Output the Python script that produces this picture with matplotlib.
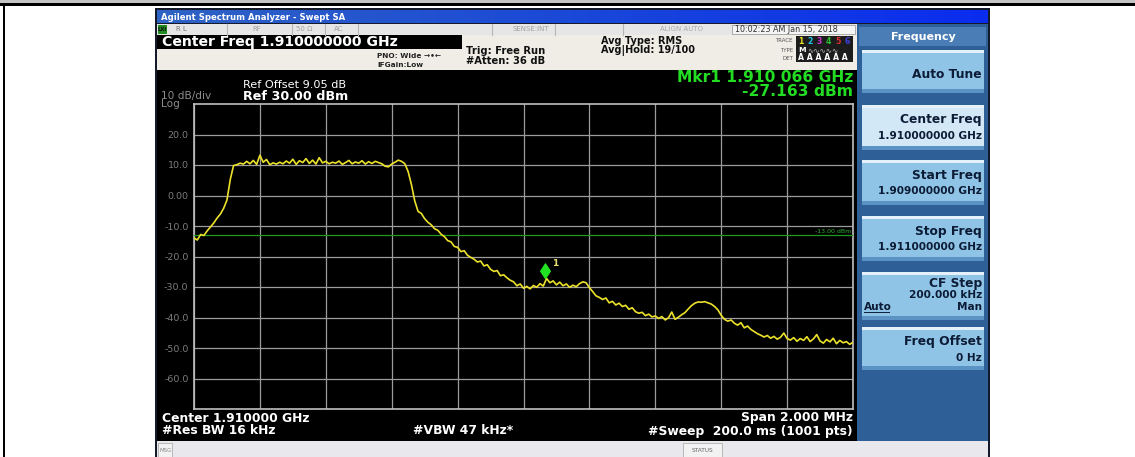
import matplotlib.pyplot as plt
from matplotlib.patches import Rectangle
from matplotlib.colors import LinearSegmentedColormap
import numpy as np

# the instrument screenshot uses a wide sans, DejaVu comes closest
plt.rcParams['font.family'] = ['DejaVu Sans', 'Liberation Sans']

# sweep 1.909 - 1.911 GHz, 201 points
start_ghz = 1.909
stop_ghz = 1.911
trace_dbm = [
    -13.9, -14.6, -12.8, -13.1, -11.6, -10.3, -9.0, -7.4, -6.1, -4.2,
    -1.5, 5.2, 9.8, 10.1, 10.6, 10.3, 11.2, 10.4, 11.5, 10.2,
    13.2, 10.9, 11.8, 10.1, 10.7, 10.3, 10.9, 10.4, 11.3, 10.6,
    11.9, 10.2, 11.4, 10.8, 12.1, 10.5, 11.6, 10.3, 12.4, 10.7,
    11.2, 10.4, 10.9, 10.6, 11.3, 10.2, 10.8, 11.5, 10.4, 11.0,
    10.6, 11.4, 10.3, 11.1, 10.5, 11.2, 10.8, 10.4, 9.6, 9.4,
    10.3, 10.9, 11.6, 11.2, 10.4, 7.8, 3.5, -1.8, -5.2, -5.9,
    -7.6, -8.8, -9.6, -10.9, -11.4, -12.7, -13.5, -14.8, -15.2, -16.7,
    -17.0, -18.4, -18.1, -19.6, -20.3, -20.9, -21.8, -21.5, -23.1, -22.7,
    -24.2, -24.9, -24.6, -26.3, -26.0, -27.0, -27.8, -28.3, -29.6, -29.0,
    -30.4, -29.8, -30.6, -29.5, -30.1, -28.9, -29.7, -27.2, -28.6, -28.0,
    -29.3, -28.4, -29.6, -29.0, -30.1, -29.4, -29.9, -28.9, -28.3, -28.6,
    -30.2, -31.5, -32.9, -33.4, -34.1, -33.6, -35.2, -34.7, -35.9, -35.3,
    -36.4, -36.0, -37.3, -36.8, -38.1, -38.6, -38.3, -39.4, -38.9, -39.8,
    -39.5, -40.3, -39.7, -40.8, -40.1, -38.2, -40.6, -39.9, -39.1, -38.4,
    -37.2, -36.1, -35.3, -34.9, -35.0, -34.8, -35.2, -35.6, -36.4, -37.5,
    -39.3, -40.6, -41.2, -40.8, -41.9, -42.5, -41.7, -43.4, -42.8, -43.9,
    -44.6, -45.3, -45.8, -46.4, -45.9, -46.8, -46.2, -47.1, -46.5, -45.1,
    -46.9, -47.4, -46.6, -47.8, -46.9, -47.5, -46.3, -47.9, -47.0, -45.6,
    -47.7, -48.4, -47.2, -48.0, -46.8, -48.6, -47.5, -48.3, -47.9, -48.8,
    -48.1,
]
ref_dbm = 30.0
bottom_dbm = -70.0
y_ticks = [20, 10, 0, -10, -20, -30, -40, -50, -60]
y_tick_labels = ['20.0', '10.0', '0.00', '-10.0', '-20.0', '-30.0', '-40.0', '-50.0', '-60.0']
limit_dbm = -13.0
mkr_ghz = 1.910066
mkr_dbm = -27.163

softkeys = [
    ('Auto Tune', None),
    ('Center Freq', '1.910000000 GHz'),
    ('Start Freq', '1.909000000 GHz'),
    ('Stop Freq', '1.911000000 GHz'),
    ('CF Step', '200.000 kHz'),
    ('Freq Offset', '0 Hz'),
]

W, H = 1135, 457
fig = plt.figure(figsize=(W / 100, H / 100), dpi=100)
fig.patch.set_facecolor('white')

# whole-figure layer in pixel coordinates for the instrument screen chrome
bg = fig.add_axes([0, 0, 1, 1])
bg.set_xlim(0, W)
bg.set_ylim(H, 0)
bg.axis('off')


def box(x0, y0, x1, y1, color, ec='none', lw=0):
    bg.add_patch(Rectangle((x0, y0), x1 - x0, y1 - y0, facecolor=color,
                           edgecolor=ec, linewidth=lw))


def txt(x, y, s, size=7, color='white', weight='normal', ha='left', **kw):
    bg.text(x, y, s, fontsize=size, color=color, fontweight=weight,
            ha=ha, va='center', **kw)


# page borders
box(0, 0, W, 3.3, '#c4c4c4')
box(0, 3.3, W, 6, 'black')
box(2.7, 6, 5.3, H, 'black')

# screenshot frame + title bar
box(155, 8, 990, H, '#141a2a')
grad = np.linspace(0, 1, 256).reshape(1, -1)
bg.imshow(grad, extent=(157, 988, 23.5, 10.5), aspect='auto', zorder=1,
          cmap=LinearSegmentedColormap.from_list('tb', ['#2f63c4', '#1a48d8', '#0a2cf0']))
txt(161, 17.5, 'Agilent Spectrum Analyzer - Swept SA', size=6.1, weight='bold', zorder=2)

# status row
box(157, 23.5, 857, 35, '#e6e6e6')
for xs in [227, 292, 325, 358, 492, 555, 623]:
    bg.plot([xs, xs], [24, 34.5], color='#b5b5b5', lw=0.8)
box(157.5, 25, 167, 33.5, '#1f8a1f')
txt(158, 29.3, 'LXI', size=3.8, color='#111111', weight='bold')
txt(176, 29.3, 'R L', size=5, color='#777777')
txt(252, 29.3, 'RF', size=5, color='#a0a0a0')
txt(296, 29.3, '50 Ω', size=5, color='#a0a0a0')
txt(334, 29.3, 'AC', size=5, color='#a0a0a0')
txt(531, 29.3, 'SENSE:INT', size=5, color='#a0a0a0', ha='center')
txt(681, 29.3, 'ALIGN AUTO', size=5, color='#aaaaaa', ha='center')
box(732, 24.5, 855, 34, '#f4f4f4', ec='#a0a0a0', lw=0.6)
txt(735, 29.3, '10:02:23 AM Jan 15, 2018', size=5.8, color='#333333')

# settings row
box(157, 35, 857, 70, '#efede6')
box(157, 35, 462, 49, 'black')
txt(162, 42, 'Center Freq 1.910000000 GHz', size=10.1, weight='bold')
txt(377, 56, 'PNO: Wide \u2192\u2022\u2190', size=5.3, color='#222222', weight='bold')
txt(377, 65, 'IFGain:Low', size=5.3, color='#222222', weight='bold')
txt(466, 51.5, 'Trig: Free Run', size=7.2, color='#111111', weight='bold')
txt(466, 61, '#Atten: 36 dB', size=7.2, color='#111111', weight='bold')
txt(601, 41, 'Avg Type: RMS', size=7.0, color='#111111', weight='bold')
txt(601, 51, 'Avg|Hold: 19/100', size=7.0, color='#111111', weight='bold')
txt(793, 41, 'TRACE', size=4, color='#555555', ha='right')
txt(793, 50, 'TYPE', size=4, color='#555555', ha='right')
txt(793, 58, 'DET', size=4, color='#555555', ha='right')
box(796, 36, 853, 62, '#1c1c1c')
for k, col in enumerate(['#e8e020', '#20c8e8', '#d030d0', '#30c030', '#e03030', '#4040e0']):
    txt(798 + k * 9.3, 41, str(k + 1), size=5.6, color=col, weight='bold')
txt(798, 50, 'M', size=5.4, color='white', weight='bold')
txt(807, 50, '\u223f\u223f\u223f\u223f\u223f', size=5.4, color='#bbbbbb')
txt(798, 58, 'A A A A A A', size=5.6, color='white', weight='bold')

# screen
box(157, 70, 857, 441, 'black')
txt(243, 85, 'Ref Offset 9.05 dB', size=8.1)
txt(161, 96, '10 dB/div', size=7.6, color='#8c8c8c')
txt(243, 96, 'Ref 30.00 dBm', size=9.2, weight='bold')
txt(161, 104, 'Log', size=7.6, color='#8c8c8c')
txt(853, 78, 'Mkr1 1.910 066 GHz', size=11.2, color='#22dd22', weight='bold', ha='right')
txt(853, 91.5, '-27.163 dBm', size=11.2, color='#22dd22', weight='bold', ha='right')
txt(162, 418, 'Center 1.910000 GHz', size=8.9, weight='bold')
txt(162, 431, '#Res BW 16 kHz', size=8.9, weight='bold')
txt(413, 431, '#VBW 47 kHz*', size=8.9, weight='bold')
txt(853, 418, 'Span 2.000 MHz', size=8.9, weight='bold', ha='right')
txt(853, 431, '#Sweep  200.0 ms (1001 pts)', size=8.9, weight='bold', ha='right')

# message bar
box(157, 441, 988, H, '#e9e8ec')
box(158, 443, 172, H, '#f2f2f2', ec='#b0b0b0', lw=0.6)
txt(159.5, 450, 'MSG', size=4, color='#888888')
box(683, 443, 722, H, '#f2f2f2', ec='#b0b0b0', lw=0.6)
txt(702.5, 450, 'STATUS', size=4.2, color='#666666', ha='center')

# softkey panel
box(857, 23.5, 988, 441, '#2e5f96')
box(859, 27, 986, 46, '#4a7db5')
txt(923, 37, 'Frequency', size=8, weight='bold', ha='center')
key_tops = [50, 105, 160, 216, 272, 327]
key_h = [43, 45, 45, 45, 48, 43]
ink = '#0c1c36'
for (name, val), top, h in zip(softkeys, key_tops, key_h):
    face = '#d3e8f6' if name == 'Center Freq' else '#90c4e6'
    box(862, top, 984, top + h, face)
    box(862, top, 984, top + 3, '#e4f1fa')
    box(862, top + h - 4, 984, top + h, '#5b93c4')
    if name == 'CF Step':
        txt(982, top + 11, name, size=8.8, color=ink, weight='bold', ha='right')
        txt(982, top + 23, val, size=7.6, color=ink, weight='bold', ha='right')
        txt(982, top + 35, 'Man', size=7.6, color=ink, weight='bold', ha='right')
        txt(864, top + 35, 'Auto', size=7.6, color=ink, weight='bold')
        bg.plot([864, 889], [top + 40, top + 40], color=ink, lw=0.7)
    elif val:
        txt(982, top + 15, name, size=8.8, color=ink, weight='bold', ha='right')
        txt(982, top + 31, val, size=7.6, color=ink, weight='bold', ha='right')
    else:
        txt(982, top + 24, name, size=8.8, color=ink, weight='bold', ha='right')

# trace display
ax = fig.add_axes([194 / W, 1 - 409 / H, (853 - 194) / W, (409 - 104) / H])
ax.set_facecolor('black')
freqs = np.linspace(start_ghz, stop_ghz, len(trace_dbm))
ax.set_xlim(start_ghz, stop_ghz)
ax.set_ylim(bottom_dbm, ref_dbm)
ax.set_xticks(np.linspace(start_ghz, stop_ghz, 11))
ax.set_yticks(y_ticks)
ax.set_yticklabels(y_tick_labels)
ax.tick_params(axis='x', length=0, labelbottom=False)
ax.tick_params(axis='y', length=0, pad=4, labelsize=6.8, labelcolor='#7c7c7c')
ax.grid(True, color='#9c9c9c', linewidth=0.9)
for sp in ax.spines.values():
    sp.set_color('#c0c0c0')
    sp.set_linewidth(1.2)

ax.axhline(limit_dbm, color='#1f9a1f', linewidth=0.9, zorder=3)
ax.text(0.997, limit_dbm + 1.3, '-13.00 dBm', transform=ax.get_yaxis_transform(),
        fontsize=4.5, color='#2fb02f', ha='right', va='center')
ax.plot(freqs, trace_dbm, color='#ece22a', linewidth=1.2, zorder=4)

# marker diamond sits on the trace with its lower tip
diamond = [(0, 0), (0.33, 0.5), (0, 1), (-0.33, 0.5), (0, 0)]
ax.plot([mkr_ghz], [mkr_dbm], marker=diamond, markersize=21, color='#22e022',
        linestyle='none', zorder=5)
ax.annotate('1', (mkr_ghz, mkr_dbm), xytext=(7, 15), textcoords='offset pixels',
            fontsize=6.5, color='#e8e070', fontweight='bold', ha='left', va='center')

fig.savefig('out.png', dpi=100, facecolor='white')
